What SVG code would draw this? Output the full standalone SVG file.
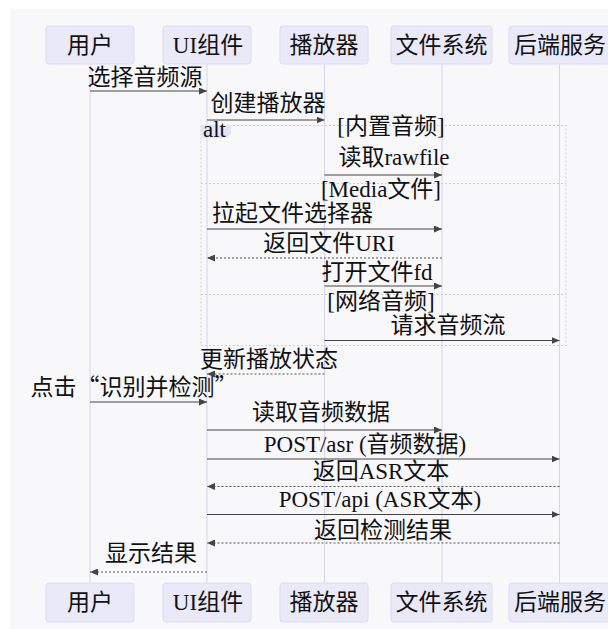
<svg xmlns="http://www.w3.org/2000/svg" width="608" height="629" viewBox="0 0 608 629">
<style>
  text { font-family: "Liberation Serif", "Noto Sans CJK SC", serif; font-size: 23px; fill: #111; }
  .actor rect { fill: #e9e9f8; stroke: #dcdcf0; stroke-width: 1; }
  .actor text { text-anchor: middle; }
  .lifeline { stroke: #d5d3ef; stroke-width: 1; }
  .msg { stroke: #444; stroke-width: 1.2; fill: none; marker-end: url(#arrow); }
  .reply { stroke: #555; stroke-width: 1.2; fill: none; stroke-dasharray: 2 2; marker-end: url(#arrow); }
  .lbl { text-anchor: middle; }
  .frame { fill: none; stroke: #cfcfdc; stroke-width: 1; stroke-dasharray: 2 2; }
  .cjk { font-family: "Noto Sans CJK SC", "Liberation Serif", serif; }
</style>
<defs>
  <marker id="arrow" markerUnits="userSpaceOnUse" markerWidth="9" markerHeight="7" refX="8" refY="3.5" orient="auto">
    <path d="M0,0 L8,3.5 L0,7 z" fill="#444"/>
  </marker>
</defs>
<rect x="0" y="0" width="608" height="629" fill="#ffffff"/>
<rect x="10" y="9" width="598" height="620" fill="#f8f8fb"/>

<g id="lifelines">
  <line class="lifeline" x1="90" y1="64" x2="90" y2="583"/>
  <line class="lifeline" x1="207" y1="64" x2="207" y2="583"/>
  <line class="lifeline" x1="324.5" y1="64" x2="324.5" y2="583"/>
  <line class="lifeline" x1="442" y1="64" x2="442" y2="583"/>
  <line class="lifeline" x1="559.5" y1="64" x2="559.5" y2="583"/>
</g>

<g id="alt-frame">
  <rect class="frame" x="201" y="125.5" width="365" height="220"/>
  <line class="frame" x1="201" y1="183.5" x2="566" y2="183.5"/>
  <line class="frame" x1="201" y1="294.5" x2="566" y2="294.5"/>
  <path d="M201,125 H231 V134 L226,138 H201 Z" fill="#e4e4f7"/>
  <text x="203" y="137">alt</text>
  <text class="lbl" x="391" y="134">[内置音频]</text>
  <text class="lbl" x="381" y="197">[Media文件]</text>
  <text class="lbl" x="381" y="309">[网络音频]</text>
</g>

<g id="actor-user-top" class="actor"><rect x="46" y="26" width="88" height="38" rx="3"/><text x="90" y="53">用户</text></g>
<g id="actor-ui-top" class="actor"><rect x="163" y="26" width="88" height="38" rx="3"/><text x="208" y="53">UI组件</text></g>
<g id="actor-player-top" class="actor"><rect x="280" y="26" width="88" height="38" rx="3"/><text x="324" y="53">播放器</text></g>
<g id="actor-fs-top" class="actor"><rect x="391" y="26" width="101" height="38" rx="3"/><text x="441.5" y="53">文件系统</text></g>
<g id="actor-backend-top" class="actor"><rect x="509" y="26" width="101" height="38" rx="3"/><text x="560" y="53">后端服务</text></g>

<g id="actor-user-bottom" class="actor"><rect x="46" y="583" width="88" height="39" rx="3"/><text x="90" y="609.5">用户</text></g>
<g id="actor-ui-bottom" class="actor"><rect x="163" y="583" width="88" height="39" rx="3"/><text x="208" y="609.5">UI组件</text></g>
<g id="actor-player-bottom" class="actor"><rect x="280" y="583" width="88" height="39" rx="3"/><text x="324" y="609.5">播放器</text></g>
<g id="actor-fs-bottom" class="actor"><rect x="391" y="583" width="101" height="39" rx="3"/><text x="441.5" y="609.5">文件系统</text></g>
<g id="actor-backend-bottom" class="actor"><rect x="509" y="583" width="101" height="39" rx="3"/><text x="560" y="609.5">后端服务</text></g>

<g id="messages">
  <line class="msg" x1="90" y1="91" x2="207" y2="91"/>
  <line class="msg" x1="207" y1="120" x2="324.5" y2="120"/>
  <line class="msg" x1="324.5" y1="175" x2="442" y2="175"/>
  <line class="msg" x1="207" y1="229" x2="442" y2="229"/>
  <line class="reply" x1="442" y1="258" x2="207" y2="258"/>
  <line class="msg" x1="324.5" y1="286" x2="442" y2="286"/>
  <line class="msg" x1="324.5" y1="340.5" x2="559.5" y2="340.5"/>
  <line class="reply" x1="324.5" y1="374" x2="207" y2="374"/>
  <line class="msg" x1="90" y1="402" x2="207" y2="402"/>
  <line class="msg" x1="207" y1="430" x2="442" y2="430"/>
  <line class="msg" x1="207" y1="459" x2="559.5" y2="459"/>
  <line class="reply" x1="559.5" y1="486.5" x2="207" y2="486.5"/>
  <line class="msg" x1="207" y1="514.5" x2="559.5" y2="514.5"/>
  <line class="reply" x1="559.5" y1="543" x2="207" y2="543"/>
  <line class="reply" x1="207" y1="572" x2="90" y2="572"/>
</g>

<g id="message-labels">
  <text class="lbl" x="145" y="85">选择音频源</text>
  <text class="lbl" x="268" y="111">创建播放器</text>
  <text class="lbl" x="394" y="165">读取rawfile</text>
  <text class="lbl" x="292.5" y="221">拉起文件选择器</text>
  <text class="lbl" x="329" y="251">返回文件URI</text>
  <text class="lbl" x="377" y="280">打开文件fd</text>
  <text class="lbl" x="448" y="333">请求音频流</text>
  <text class="lbl" x="269" y="366.5">更新播放状态</text>
  <text class="lbl cjk" x="134" y="395">点击“识别并检测”</text>
  <text class="lbl" x="321" y="419.5">读取音频数据</text>
  <text class="lbl" x="365" y="452">POST/asr (音频数据)</text>
  <text class="lbl" x="381" y="479">返回ASR文本</text>
  <text class="lbl" x="380" y="507">POST/api (ASR文本)</text>
  <text class="lbl" x="383" y="538">返回检测结果</text>
  <text class="lbl" x="151" y="560.5">显示结果</text>
</g>
</svg>
